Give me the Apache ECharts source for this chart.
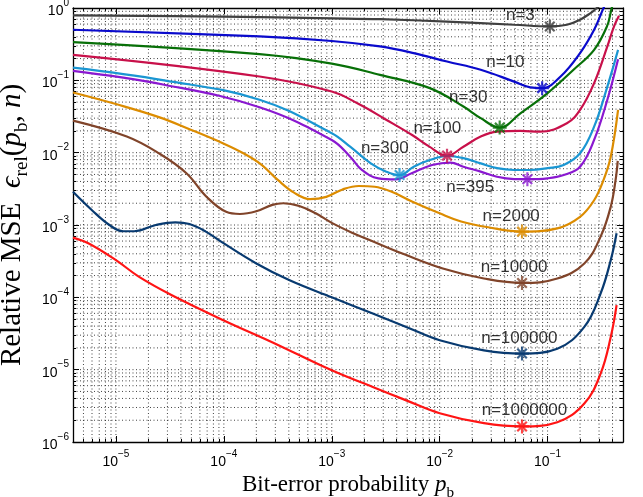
<!DOCTYPE html>
<html>
<head>
<meta charset="utf-8">
<script src="https://cdn.jsdelivr.net/npm/echarts@6/dist/echarts.min.js"></script>
<style>
  html, body { margin: 0; padding: 0; background: #fff; }
  #chart { width: 643px; height: 497px; }
</style>
</head>
<body>
<div id="chart"></div>
<script>
// curves, [p_b, relative MSE]
const n3 = [[4e-6, 0.79], [1e-4, 0.76], [1e-3, 0.72], [2.8e-3, 0.70], [0.0117, 0.65], [0.049, 0.587], [0.105, 0.556], [0.151, 0.587], [0.2, 0.69], [0.25, 0.85], [0.28, 0.97], [0.31, 1.1]];
const n10 = [[4e-6, 0.50], [2.14e-4, 0.404], [1e-3, 0.35], [2.8e-3, 0.294], [5.75e-3, 0.238], [0.0117, 0.182], [0.024, 0.14], [0.049, 0.096], [0.069, 0.080], [0.089, 0.078], [0.132, 0.113], [0.2, 0.238], [0.27, 0.5], [0.325, 0.95], [0.34, 1.1]];
const n30 = [[4e-6, 0.338], [2.14e-4, 0.23], [1e-3, 0.17], [2.8e-3, 0.119], [8.1e-3, 0.078], [0.0166, 0.0434], [0.024, 0.030], [0.036, 0.0222], [0.056, 0.035], [0.1, 0.0665], [0.174, 0.14], [0.27, 0.264], [0.355, 0.556], [0.39, 0.95], [0.40, 1.1]];
const n100 = [[4e-6, 0.225], [2.14e-4, 0.113], [1e-3, 0.07], [1.78e-3, 0.047], [3.16e-3, 0.0288], [5.6e-3, 0.0174], [7.9e-3, 0.0123], [0.0117, 0.0091], [0.0166, 0.0121], [0.024, 0.0167], [0.034, 0.0195], [0.056, 0.020], [0.085, 0.0195], [0.151, 0.0255], [0.2, 0.039], [0.27, 0.0915], [0.358, 0.294], [0.413, 0.556], [0.459, 0.78]];
const n300 = [[4e-6, 0.15], [2.8e-5, 0.10], [2.14e-4, 0.054], [1e-3, 0.0186], [1.48e-3, 0.0121], [2.3e-3, 0.0071], [3.2e-3, 0.00546], [4.25e-3, 0.0049], [5.75e-3, 0.0064], [8.1e-3, 0.0079], [0.0117, 0.0090], [0.0166, 0.0084], [0.024, 0.0071], [0.034, 0.0061], [0.049, 0.00576], [0.069, 0.00576], [0.1, 0.0061], [0.141, 0.00675], [0.2, 0.0098], [0.27, 0.0229], [0.358, 0.082], [0.45, 0.264]];
const n395 = [[4e-6, 0.135], [2.8e-5, 0.087], [2.14e-4, 0.0425], [1e-3, 0.015], [1.48e-3, 0.0088], [1.9e-3, 0.00576], [2.7e-3, 0.00442], [3.9e-3, 0.00428], [5.5e-3, 0.0052], [8.5e-3, 0.00675], [0.0126, 0.0073], [0.0166, 0.0064], [0.024, 0.00546], [0.034, 0.00465], [0.049, 0.00432], [0.065, 0.0043], [0.1, 0.00442], [0.141, 0.0049], [0.2, 0.0064], [0.27, 0.015], [0.358, 0.054], [0.45, 0.196]];
const n2000 = [[4e-6, 0.068], [1e-5, 0.047], [2.5e-5, 0.031], [5e-5, 0.0206], [1e-4, 0.0133], [1.58e-4, 0.0095], [2.24e-4, 0.0068], [3.16e-4, 0.0042], [4.47e-4, 0.0028], [6.3e-4, 0.00228], [8.9e-4, 0.00245], [1.26e-3, 0.0031], [1.78e-3, 0.00346], [2.5e-3, 0.00338], [3.55e-3, 0.0029], [5.6e-3, 0.0021], [0.01, 0.00145], [0.0158, 0.00112], [0.0282, 0.00093], [0.058, 0.00081], [0.123, 0.0009], [0.2, 0.0013], [0.27, 0.0022], [0.33, 0.0042], [0.385, 0.0088], [0.45, 0.039]];
const n10000 = [[4e-6, 0.0277], [1.26e-5, 0.0167], [2.5e-5, 0.0098], [4.5e-5, 0.0052], [6.9e-5, 0.00246], [1.05e-4, 0.00152], [1.41e-4, 0.00142], [2e-4, 0.00155], [2.82e-4, 0.0019], [3.55e-4, 0.0020], [5e-4, 0.00183], [7.1e-4, 0.00145], [1e-3, 0.00107], [1.58e-3, 0.00077], [2.24e-3, 0.00062], [4.57e-3, 0.0004], [0.0107, 0.00025], [0.0257, 0.000182], [0.058, 0.000158], [0.123, 0.000182], [0.219, 0.000294], [0.31, 0.00069], [0.385, 0.00179], [0.427, 0.0042], [0.447, 0.0077]];
const n100000 = [[4e-6, 0.00288], [6e-6, 0.0016], [8.7e-6, 0.001], [1.17e-5, 0.00082], [1.48e-5, 0.00082], [2.34e-5, 0.001], [3.55e-5, 0.00109], [4.8e-5, 0.00103], [6.8e-5, 0.00081], [1e-4, 0.000556], [2e-4, 0.000294], [4.07e-4, 0.000172], [1e-3, 1e-4], [2.4e-3, 5.97e-5], [4.9e-3, 3.9e-5], [0.01, 2.55e-5], [0.0257, 1.85e-5], [0.058, 1.67e-5], [0.123, 1.95e-5], [0.219, 3.9e-5], [0.31, 1.13e-4], [0.385, 3.27e-4], [0.436, 7.7e-4]];
const n1000000 = [[4e-6, 6.7e-4], [5.6e-6, 5.56e-4], [1e-5, 3.27e-4], [1.64e-5, 1.92e-4], [3.3e-5, 1.07e-4], [1e-4, 4.8e-5], [2.8e-4, 2.4e-5], [1e-3, 9.8e-6], [2.4e-3, 5.75e-6], [4.9e-3, 3.76e-6], [0.01, 2.5e-6], [0.0257, 1.82e-6], [0.058, 1.64e-6], [0.123, 1.88e-6], [0.219, 3.4e-6], [0.31, 8.8e-6], [0.385, 2.83e-5], [0.436, 7.8e-5]];

const curves = [n3, n10, n30, n100, n300, n395, n2000, n10000, n100000, n1000000];
const names = ['n=3', 'n=10', 'n=30', 'n=100', 'n=300', 'n=395', 'n=2000', 'n=10000', 'n=100000', 'n=1000000'];
const colors = ['#404040', '#0a0acc', '#087008', '#c8104a', '#1a96d2', '#8a18d0', '#dc8c00', '#80442a', '#083a70', '#ff1414'];

// star markers at the minimum of each curve
const minima = [[0.105, 0.556], [0.089, 0.078], [0.036, 0.0222], [0.0117, 0.0091], [0.00425, 0.0049], [0.065, 0.0043], [0.058, 0.00081], [0.058, 0.000158], [0.058, 1.67e-5], [0.058, 1.64e-6]];
// where the n=... text sits
const labelAt = [[0.056, 0.78], [0.0406, 0.18], [0.0184, 0.059], [0.0095, 0.022], [0.0031, 0.0116], [0.0192, 0.00335], [0.046, 0.0013], [0.049, 0.000261], [0.0548, 2.71e-5], [0.061, 2.73e-6]];

const decades = [1e-6, 1e-5, 1e-4, 1e-3, 1e-2, 1e-1, 1];
const minorSteps = [2, 3, 4, 5, 6, 7, 8, 9];

const xMin = 4e-6, xMax = 0.5, yMin = 1e-6, yMax = 1;

function inRange(v, lo, hi) { return v > lo * 1.0001 && v < hi * 0.9999; }
function majors(lo, hi) { return decades.filter(d => d >= lo * 0.9999 && d <= hi * 1.0001); }
function minors(lo, hi) {
  const out = [];
  decades.forEach(d => minorSteps.forEach(m => { if (inRange(d * m, lo, hi)) out.push(d * m); }));
  return out;
}

// dotted grid: one polyline per direction, broken with '-' between lines
const vGrid = [];
majors(xMin, xMax).concat(minors(xMin, xMax)).forEach(v => { if (inRange(v, xMin, xMax)) vGrid.push([v, yMin], [v, yMax], [v, '-']); });
const hGrid = [];
majors(yMin, yMax).concat(minors(yMin, yMax)).forEach(v => { if (inRange(v, yMin, yMax)) hGrid.push([xMin, v], [xMax, v], ['-', v]); });

function powLabel(v) {
  const l = Math.log10(v);
  const e = Math.round(l);
  if (Math.abs(l - e) > 1e-6) return '';
  return '{b|10}{e|' + (e === 0 ? '0' : '\u2212' + (-e)) + '}';
}

const tickRich = {
  b: { fontSize: 14, lineHeight: 20, verticalAlign: 'bottom', fontFamily: 'Liberation Sans', color: '#000' },
  e: { fontSize: 10, lineHeight: 12, verticalAlign: 'top', fontFamily: 'Liberation Sans', color: '#000' },
};

function nameRich(size) {
  return {
    t: { fontSize: size, fontFamily: 'Liberation Serif', color: '#000', lineHeight: size * 1.3, verticalAlign: 'middle' },
    i: { fontSize: size, fontFamily: 'Liberation Serif', fontStyle: 'italic', color: '#000', lineHeight: size * 1.3, verticalAlign: 'middle' },
    s: { fontSize: size * 0.66, fontFamily: 'Liberation Serif', color: '#000', lineHeight: size * 1.0, verticalAlign: 'bottom' },
  };
}

const gridStyle = { type: [1, 2.5], color: '#222', width: 1, opacity: 0.85 };
const frame = { color: '#000', width: 1.3 };

function frameAxis(position, lo, hi, minor, extra) {
  return Object.assign({
    type: 'log',
    position: position,
    min: lo,
    max: hi,
    axisLine: { show: !minor, lineStyle: frame },
    axisTick: {
      show: true, inside: true, length: minor ? 3 : 6,
      customValues: minor ? minors(lo, hi) : majors(lo, hi),
      lineStyle: { color: '#000', width: 1 },
    },
    axisLabel: { show: false },
    splitLine: { show: false },
  }, extra || {});
}

const chart = echarts.init(document.getElementById('chart'));

const lineSeries = curves.map((d, i) => ({
  type: 'line',
  name: names[i],
  data: d,
  smooth: 0.4,
  showSymbol: false,
  lineStyle: { color: colors[i], width: 2.2 },
  z: 3,
}));

const option = {
  animation: false,
  grid: { left: 73, right: 20, top: 8, bottom: 55, outerBoundsMode: 'none', containLabel: false },
  xAxis: [
    frameAxis('bottom', xMin, xMax, false, {
      axisLabel: { show: true, formatter: powLabel, rich: tickRich, margin: 7, customValues: majors(xMin, xMax) },
      name: '{t|Bit-error probability }{i|p}{s|b}',
      nameLocation: 'middle',
      nameGap: 16,
      nameTextStyle: { rich: nameRich(23) },
    }),
    frameAxis('top', xMin, xMax, false),
    frameAxis('bottom', xMin, xMax, true, { offset: 0 }),
    frameAxis('top', xMin, xMax, true, { offset: 0 }),
  ],
  yAxis: [
    frameAxis('left', yMin, yMax, false, {
      axisLabel: { show: true, formatter: powLabel, rich: tickRich, margin: 4, customValues: majors(yMin, yMax) },
      name: '{t|Relative MSE  }{i|\u03f5}{s|rel}{t|(}{i|p}{s|b}{t|, }{i|n}{t|)}',
      nameLocation: 'middle',
      nameRotate: 90,
      nameGap: 38,
      nameTextStyle: { rich: nameRich(29) },
    }),
    frameAxis('right', yMin, yMax, false),
    frameAxis('left', yMin, yMax, true, { offset: 0 }),
    frameAxis('right', yMin, yMax, true, { offset: 0 }),
  ],
  series: [
    {
      type: 'line', data: vGrid, silent: true, z: 1, showSymbol: false,
      connectNulls: false, lineStyle: gridStyle,
    },
    {
      type: 'line', data: hGrid, silent: true, z: 1, showSymbol: false,
      connectNulls: false, lineStyle: gridStyle,
    },
    ...lineSeries,
    {
      type: 'scatter',
      z: 5,
      symbol: 'path://M5,0L5,10M0,5L10,5M1.6,1.6L8.4,8.4M1.6,8.4L8.4,1.6',
      symbolSize: 14,
      data: minima.map((p, i) => ({
        value: p,
        itemStyle: { color: colors[i], borderColor: colors[i], borderWidth: 2.2 },
      })),
    },
    {
      type: 'scatter',
      z: 6,
      symbolSize: 1,
      itemStyle: { color: 'rgba(0,0,0,0)' },
      label: {
        show: true,
        position: 'inside',
        formatter: p => names[p.dataIndex],
        fontFamily: 'Liberation Sans',
        fontSize: 17,
        color: '#000',
        textBorderWidth: 0,
      },
      data: labelAt,
    },
  ],
};

chart.setOption(option);
</script>
</body>
</html>
